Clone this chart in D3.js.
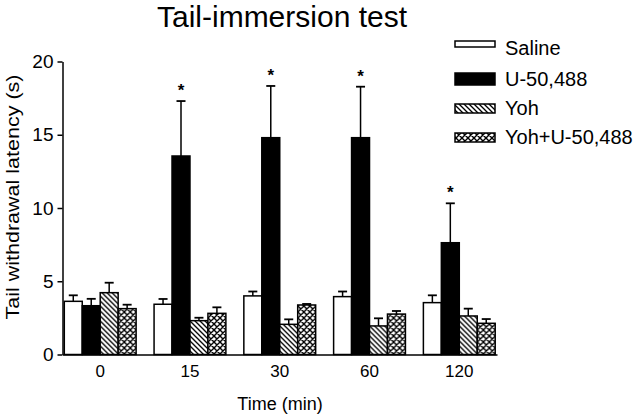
<!DOCTYPE html>
<html>
<head>
<meta charset="utf-8">
<script src="https://cdn.jsdelivr.net/npm/d3@7"></script>
<style>
  html, body { margin: 0; padding: 0; background: #fff; }
  svg { display: block; }
  text { font-family: "Liberation Sans", Arial, Helvetica, sans-serif; fill: #000; }
</style>
</head>
<body>
<svg id="chart" width="640" height="417"></svg>
<script>
// ---- data ----
const times = ["0", "15", "30", "60", "120"];
const seriesNames = ["Saline", "U-50,488", "Yoh", "Yoh+U-50,488"];
const saline     = [3.63, 3.43, 4.00, 3.95, 3.54];
const salineErr  = [0.41, 0.36, 0.30, 0.35, 0.50];
const u50488     = [3.33, 13.55, 14.80, 14.80, 7.63];
const u50488Err  = [0.47, 3.75, 3.53, 3.48, 2.69];
const yoh        = [4.22, 2.31, 2.06, 1.95, 2.63];
const yohErr     = [0.68, 0.20, 0.34, 0.52, 0.50];
const yohU       = [3.13, 2.81, 3.38, 2.76, 2.13];
const yohUErr    = [0.27, 0.41, 0.07, 0.21, 0.29];
const significant = [false, true, true, true, true]; // U-50,488 vs saline
const yTicks = [0, 5, 10, 15, 20];

const means = [saline, u50488, yoh, yohU];
const errs  = [salineErr, u50488Err, yohErr, yohUErr];

// ---- layout ----
const svg = d3.select("#chart");
const x0 = d3.scaleBand().domain(times).range([62.5, 497]).paddingInner(0.2).paddingOuter(0.02);
const x1 = d3.scaleBand().domain(seriesNames).range([0, x0.bandwidth()]);
const y = d3.scaleLinear().domain([0, 20]).range([354.5, 61.5]);

// patterns
const defs = svg.append("defs");
const hatch = defs.append("pattern").attr("id", "hatch").attr("patternUnits", "userSpaceOnUse")
  .attr("width", 5).attr("height", 5);
hatch.append("rect").attr("width", 5).attr("height", 5).attr("fill", "#fff");
hatch.append("path").attr("d", "M-1,-1 L6,6 M-1,4 L1,6 M4,-1 L6,1")
  .attr("stroke", "#000").attr("stroke-width", 1.3);

const cross = defs.append("pattern").attr("id", "cross").attr("patternUnits", "userSpaceOnUse")
  .attr("width", 6).attr("height", 6);
cross.append("rect").attr("width", 6).attr("height", 6).attr("fill", "#fff");
cross.append("path").attr("d", "M0,0 L6,6 M6,0 L0,6 M-1,5 L1,7 M5,-1 L7,1 M-1,1 L1,-1 M5,7 L7,5")
  .attr("stroke", "#000").attr("stroke-width", 1.4);

const fills = ["#fff", "#000", "url(#hatch)", "url(#cross)"];

// ---- title ----
svg.append("text").attr("x", 282).attr("y", 27).attr("text-anchor", "middle")
  .attr("font-size", 30).text("Tail-immersion test");

// ---- bars ----
const groups = svg.append("g").selectAll("g").data(times).join("g")
  .attr("transform", d => `translate(${x0(d)},0)`);

seriesNames.forEach((s, si) => {
  groups.append("line")
    .attr("x1", x1(s) + x1.bandwidth() / 2).attr("x2", x1(s) + x1.bandwidth() / 2)
    .attr("y1", (d, i) => y(means[si][i])).attr("y2", (d, i) => y(means[si][i] + errs[si][i]))
    .attr("stroke", "#000").attr("stroke-width", 1.5);
  groups.append("line")
    .attr("x1", x1(s) + x1.bandwidth() / 2 - 4.5).attr("x2", x1(s) + x1.bandwidth() / 2 + 4.5)
    .attr("y1", (d, i) => y(means[si][i] + errs[si][i])).attr("y2", (d, i) => y(means[si][i] + errs[si][i]))
    .attr("stroke", "#000").attr("stroke-width", 1.8);
  groups.append("rect")
    .attr("x", x1(s)).attr("width", x1.bandwidth())
    .attr("y", (d, i) => y(means[si][i]))
    .attr("height", (d, i) => y(0) - y(means[si][i]))
    .attr("fill", fills[si]).attr("stroke", "#000").attr("stroke-width", 1.5);
});

// significance stars
groups.filter((d, i) => significant[i]).append("text")
  .attr("x", x1("U-50,488") + x1.bandwidth() / 2)
  .attr("y", d => { const i = times.indexOf(d); return y(u50488[i] + u50488Err[i]) - 5; })
  .attr("text-anchor", "middle").attr("font-size", 17).attr("font-weight", "bold").text("*");

// ---- axes ----
const yAxis = svg.append("g").attr("transform", "translate(62.5,0)")
  .call(d3.axisLeft(y).tickValues(yTicks).tickSize(5).tickPadding(4).tickSizeOuter(0));
yAxis.select(".domain").attr("stroke-width", 1.5);
yAxis.selectAll(".tick line").attr("stroke-width", 1.5);
yAxis.selectAll("text").attr("font-size", 19).attr("font-family", "Liberation Sans, Arial, sans-serif");

const xAxis = svg.append("g").attr("transform", "translate(0,354.5)")
  .call(d3.axisBottom(x0).tickSize(0).tickPadding(10).tickSizeOuter(0));
xAxis.select(".domain").attr("stroke-width", 1.5);
xAxis.selectAll("text").attr("font-size", 17).attr("font-family", "Liberation Sans, Arial, sans-serif");

// axis titles
svg.append("text").attr("x", 280).attr("y", 410).attr("text-anchor", "middle")
  .attr("font-size", 18).text("Time (min)");
svg.append("text").attr("transform", "translate(19,197) rotate(-90)")
  .attr("text-anchor", "middle").attr("font-size", 18)
  .attr("textLength", 245).attr("lengthAdjust", "spacingAndGlyphs")
  .text("Tail withdrawal latency (s)");

// ---- legend ----
const legendBoxes = [[41, 6], [73, 12], [104, 9], [133, 9]];
const legendBaselines = [55, 86, 115, 144];
const legend = svg.append("g");
seriesNames.forEach((s, i) => {
  legend.append("rect").attr("x", 455).attr("y", legendBoxes[i][0])
    .attr("width", 40).attr("height", legendBoxes[i][1])
    .attr("fill", fills[i]).attr("stroke", "#000").attr("stroke-width", 1.5);
  legend.append("text").attr("x", 505).attr("y", legendBaselines[i])
    .attr("font-size", 20).text(s);
});
</script>
</body>
</html>
